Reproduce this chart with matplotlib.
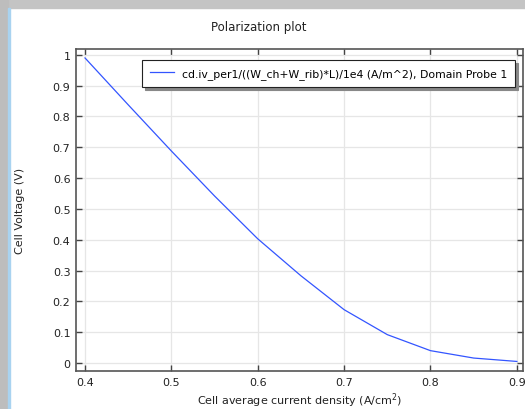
import matplotlib
matplotlib.use("Agg")
import matplotlib.pyplot as plt
from matplotlib.patches import Rectangle

# current density (A/cm^2) and cell voltage (V)
current = [0.40, 0.45, 0.50, 0.55, 0.60, 0.65, 0.70, 0.75, 0.80, 0.85, 0.90]
voltage = [0.99, 0.838, 0.688, 0.542, 0.403, 0.283, 0.173, 0.092, 0.040, 0.016, 0.005]
xticks = [0.4, 0.5, 0.6, 0.7, 0.8, 0.9]
yticks = [0, 0.1, 0.2, 0.3, 0.4, 0.5, 0.6, 0.7, 0.8, 0.9, 1]
legend_label = "cd.iv_per1/((W_ch+W_rib)*L)/1e4 (A/m^2), Domain Probe 1"

fig = plt.figure(figsize=(5.25, 4.1), dpi=100)

# window frame (screenshot border)
fig.patches.append(Rectangle((0, 0.978), 1, 0.022, transform=fig.transFigure,
                             color="#c4c4c4", zorder=0))
fig.patches.append(Rectangle((0, 0), 0.016, 1, transform=fig.transFigure,
                             color="#bdbdbd", zorder=0))
fig.patches.append(Rectangle((0.016, 0), 0.003, 0.978, transform=fig.transFigure,
                             color="#a9d3f0", zorder=0))

ax = fig.add_axes([0.1448, 0.0927, 0.8512, 0.7853])
ax.plot(current, voltage, color="#3355ff", lw=0.9, label=legend_label)

ax.set_xlim(0.3896, 0.907)
ax.set_ylim(-0.026, 1.019)
ax.set_xticks(xticks)
ax.set_yticks(yticks)
ax.set_xticklabels([str(t) for t in xticks])
ax.set_yticklabels([str(t) for t in yticks])
ax.grid(True, color="#e6e6e6", lw=0.9)
ax.tick_params(direction="in", length=4, width=1, labelsize=8, color="#444444",
               labelcolor="#222222", top=True, right=True, pad=4)
for s in ax.spines.values():
    s.set_color("#555555")
    s.set_linewidth(1.2)

ax.set_xlabel("Cell average current density (A/cm$^2$)", fontsize=8, labelpad=3,
              color="#222222")
ax.set_ylabel("Cell Voltage (V)", fontsize=8, labelpad=20, color="#222222")
fig.text(0.492, 0.932, "Polarization plot", ha="center", va="center", fontsize=8.5,
         color="#222222")

leg = ax.legend(loc="upper right", fontsize=7.8, fancybox=False, framealpha=1,
                edgecolor="#222222", shadow={"color": "#888888", "alpha": 1},
                handlelength=2.2, borderpad=0.75, handletextpad=0.7,
                bbox_to_anchor=(0.995, 0.983))
leg.get_frame().set_linewidth(0.8)

fig.savefig("out.png", dpi=100)
